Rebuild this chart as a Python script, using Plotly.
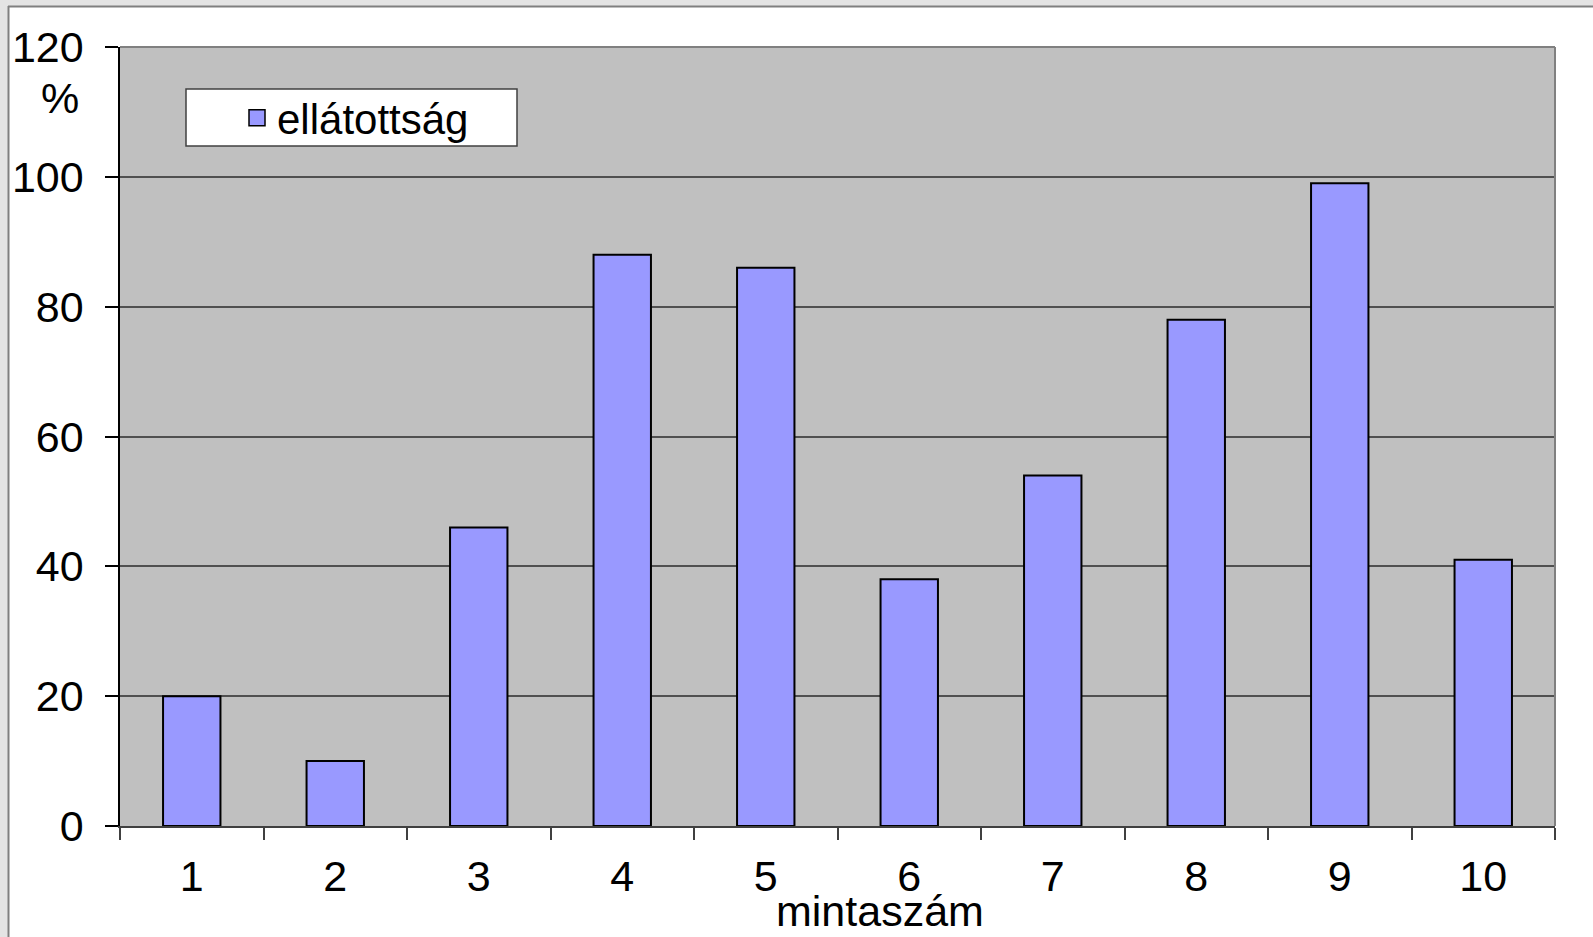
import plotly.graph_objects as go

categories = ["1", "2", "3", "4", "5", "6", "7", "8", "9", "10"]
values = [20, 10, 46, 88, 86, 38, 54, 78, 99, 41]
y_ticks = [0, 20, 40, 60, 80, 100, 120]
series_name = "ellátottság"
x_title = "mintaszám"
y_unit = "%"

W, H = 1593, 937
L, R, T, B = 120, 1555, 47, 826
pw, ph = R - L, B - T

def px(x):
    return (x - L) / pw

def py(y):
    return (B - y) / ph

FONT = "Liberation Sans, Arial, sans-serif"
FS = 43
BAR = "#9999FF"

fig = go.Figure()
fig.add_trace(go.Bar(
    x=categories, y=values, name=series_name,
    marker=dict(color=BAR, line=dict(color="black", width=2)),
    showlegend=False,
))
# legend proxy with a larger square symbol
fig.add_trace(go.Scatter(
    x=[None], y=[None], mode="markers", name=series_name,
    marker=dict(symbol="square", size=16, color=BAR, line=dict(color="black", width=1.5)),
    showlegend=True,
))

shapes = [
    # legend box
    dict(type="rect", xref="paper", yref="paper", x0=px(186), x1=px(517), y0=py(146), y1=py(89),
         fillcolor="white", line=dict(color="#404040", width=1.5), layer="above"),
    # plot border top and right
    dict(type="line", xref="paper", yref="paper", x0=0, x1=1, y0=1, y1=1,
         line=dict(color="#808080", width=2), layer="above"),
    dict(type="line", xref="paper", yref="paper", x0=1, x1=1, y0=0, y1=1,
         line=dict(color="#808080", width=2), layer="above"),
    # outer page strips
    dict(type="rect", xref="paper", yref="paper", x0=-1, x1=2, y0=py(6), y1=2,
         fillcolor="#e4e4e4", line=dict(width=0), layer="above"),
    dict(type="rect", xref="paper", yref="paper", x0=-1, x1=px(8), y0=-1, y1=2,
         fillcolor="#e4e4e4", line=dict(width=0), layer="above"),
    dict(type="line", xref="paper", yref="paper", x0=px(8), x1=2, y0=py(6.5), y1=py(6.5),
         line=dict(color="#808080", width=2), layer="above"),
    dict(type="line", xref="paper", yref="paper", x0=px(8.5), x1=px(8.5), y0=-1, y1=py(6),
         line=dict(color="#808080", width=2), layer="above"),
]

annotations = [
    dict(text=y_unit, xref="paper", yref="paper", x=px(60), y=py(98), showarrow=False,
         xanchor="center", yanchor="middle", font=dict(size=FS, color="black", family=FONT)),
    dict(text=x_title, xref="paper", yref="paper", x=px(880), y=py(911), showarrow=False,
         xanchor="center", yanchor="middle", font=dict(size=FS, color="black", family=FONT)),
]

fig.update_layout(
    width=W, height=H,
    margin=dict(l=L, r=W - R, t=T, b=H - B, pad=0),
    paper_bgcolor="white",
    plot_bgcolor="#C0C0C0",
    bargap=0.6,
    font=dict(family=FONT, size=FS, color="black"),
    shapes=shapes,
    annotations=annotations,
    legend=dict(
        x=px(237), y=py(118), xanchor="left", yanchor="middle",
        bgcolor="rgba(0,0,0,0)", borderwidth=0,
        font=dict(size=FS - 1, color="black", family=FONT),
        itemwidth=30,
    ),
    xaxis=dict(
        type="category", tickson="boundaries", ticks="outside", ticklen=12,
        tickcolor="#404040", tickwidth=1.5,
        showline=True, linecolor="#404040", linewidth=2,
        showgrid=False, tickfont=dict(size=FS, family=FONT, color="black"),
        range=[-0.5, 9.5], automargin=False, ticklabelstandoff=11,
    ),
    yaxis=dict(
        range=[0, 120], tickvals=y_ticks, ticks="outside", ticklen=13,
        tickcolor="black", tickwidth=1.5,
        showline=True, linecolor="black", linewidth=1.5,
        showgrid=True, gridcolor="#505050", gridwidth=1.5, zeroline=False,
        tickfont=dict(size=FS, family=FONT, color="black"),
        ticklabelstandoff=13, automargin=False,
    ),
)

fig.write_html("out.html", config={"displayModeBar": False},
               post_script="document.body.style.margin='0px';")
